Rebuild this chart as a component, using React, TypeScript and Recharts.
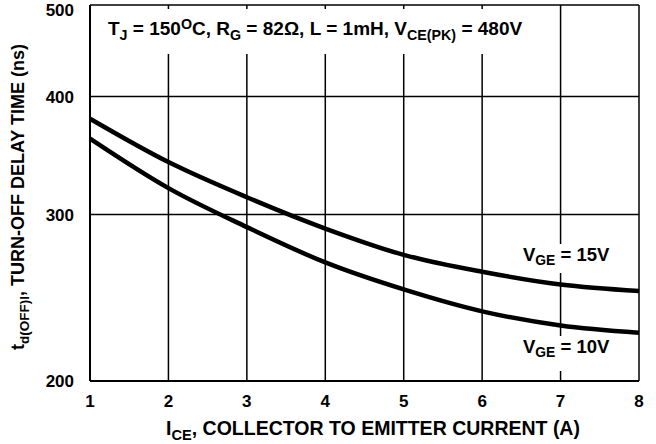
import { LineChart, Line, XAxis, YAxis, CartesianGrid } from "recharts";

// collector current (A)
const currents = [1, 2, 3, 4, 5, 6, 7, 8];
// turn-off delay time (ns)
const vge15 = [379, 341, 313, 290, 272, 261, 253, 249];
const vge10 = [361, 320, 291, 267, 250, 237, 229, 225];
const yTicks = [200, 300, 400, 500];

const data = currents.map((ice, i) => ({ ice, v15: vge15[i], v10: vge10[i] }));

const FONT = "'Liberation Sans', Arial, sans-serif";
const tickStyle = { fontFamily: FONT, fontWeight: 700, fontSize: 17, fill: "#000" };
const sub = { fontSize: "0.75em", verticalAlign: "-0.3em" } as const;

export default function App() {
  return (
    <div style={{ position: "absolute", left: 0, top: 0, width: 656, height: 444, background: "#fff", fontFamily: FONT, fontWeight: 700, color: "#000" }}>
      <LineChart width={656} height={444} data={data} margin={{ top: 5, right: 17, left: 20, bottom: 18 }}>
        <CartesianGrid stroke="#000" strokeWidth={1.5} strokeOpacity={1} />
        <XAxis
          dataKey="ice"
          type="number"
          domain={[1, 8]}
          ticks={currents}
          height={45}
          tickLine={false}
          axisLine={{ stroke: "#000", strokeWidth: 2 }}
          tick={tickStyle}
          tickMargin={8}
        />
        <YAxis
          scale="log"
          domain={[200, 500]}
          ticks={yTicks}
          width={70}
          tickLine={false}
          axisLine={{ stroke: "#000", strokeWidth: 2 }}
          tick={tickStyle}
          tickMargin={10}
          allowDataOverflow
        />
        <Line type="monotone" dataKey="v15" stroke="#000" strokeWidth={4.5} dot={false} isAnimationActive={false} />
        <Line type="monotone" dataKey="v10" stroke="#000" strokeWidth={4.5} dot={false} isAnimationActive={false} />
      </LineChart>

      <div style={{ position: "absolute", left: 104, top: 9, background: "#fff", padding: "4px 4px 8px", fontSize: 19, whiteSpace: "nowrap", lineHeight: "22px" }}>
        T<span style={sub}>J</span> = 150<span style={{ fontSize: "0.75em", verticalAlign: "0.45em" }}>O</span>C, R<span style={sub}>G</span> = 82Ω, L = 1mH, V<span style={sub}>CE(PK)</span> = 480V
      </div>

      <div style={{ position: "absolute", left: 522, top: 244, background: "#fff", padding: "0 1px 2px", fontSize: 18.5, whiteSpace: "nowrap", lineHeight: "22px" }}>
        V<span style={sub}>GE</span> = 15V
      </div>
      <div style={{ position: "absolute", left: 522, top: 336, background: "#fff", padding: "0 1px 8px", fontSize: 18.5, whiteSpace: "nowrap", lineHeight: "22px" }}>
        V<span style={sub}>GE</span> = 10V
      </div>

      <div style={{ position: "absolute", left: 20, top: 197, transform: "translate(-50%, -50%) rotate(-90deg)", fontSize: 18, whiteSpace: "nowrap" }}>
        t<span style={sub}>d(OFF)I</span>, TURN-OFF DELAY TIME (ns)
      </div>

      <div style={{ position: "absolute", left: 373, top: 430, transform: "translate(-50%, -50%)", fontSize: 19.5, whiteSpace: "nowrap" }}>
        I<span style={sub}>CE</span>, COLLECTOR TO EMITTER CURRENT (A)
      </div>
    </div>
  );
}
